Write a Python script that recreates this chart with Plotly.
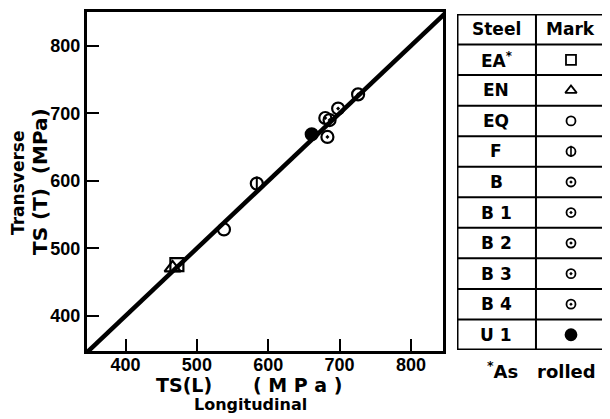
import plotly.graph_objects as go

# ---- data ----
steels = ["EA", "EN", "EQ", "F", "B", "B1", "B2", "B3", "B4", "U1"]
steel_labels = ["EA<sup>*</sup>", "EN", "EQ", "F", "B", "B 1", "B 2", "B 3", "B 4", "U 1"]
ts_long = [472, 466, 538, 584, 683, 680, 686, 698, 726, 661]
ts_trans = [476, 471, 528, 596, 665, 693, 690, 707, 728, 669]
symbols = ["square-open", "triangle-up-open", "circle-open", "circle-open",
           "circle-open-dot", "circle-open-dot", "circle-open-dot", "circle-open-dot",
           "circle-open-dot", "circle"]
x_ticks = [400, 500, 600, 700, 800]
y_ticks = [400, 500, 600, 700, 800]
diag = [345, 850]

W, H = 610, 419
OFF = 8  # page body margin offset
FONT = "DejaVu Sans"
TICKFONT = "Liberation Sans"


def px(x):
    return (x - OFF) / W


def py(y):
    return 1 - (y - OFF) / H


fig = go.Figure()

# 1:1 line
fig.add_trace(go.Scatter(x=diag, y=diag, mode="lines",
                         line=dict(color="black", width=4.5), hoverinfo="skip"))

sizes_main = {"square-open": 13, "triangle-up-open": 14}
for i, s in enumerate(steels):
    sym = symbols[i]
    fig.add_trace(go.Scatter(
        x=[ts_long[i]], y=[ts_trans[i]], mode="markers",
        marker=dict(symbol=sym, size=sizes_main.get(sym, 12),
                    color="black", line=dict(color="black", width=2.2)),
        name=s))
    if s == "F":
        fig.add_trace(go.Scatter(
            x=[ts_long[i]], y=[ts_trans[i]], mode="markers",
            marker=dict(symbol="line-ns", size=10, line=dict(color="black", width=2)),
            hoverinfo="skip"))

# ---- table markers (secondary hidden axes) ----
rows = [i + 1.5 for i in range(len(steels))]
sizes_tab = {"square-open": 10, "triangle-up-open": 10, "circle": 11}
for i, s in enumerate(steels):
    sym = symbols[i]
    fig.add_trace(go.Scatter(
        x=[0.765], y=[rows[i]], mode="markers", xaxis="x2", yaxis="y2",
        marker=dict(symbol=sym, size=sizes_tab.get(sym, 9), color="black",
                    line=dict(color="black", width=1.8)),
        hoverinfo="skip"))
    if s == "F":
        fig.add_trace(go.Scatter(
            x=[0.765], y=[rows[i]], mode="markers", xaxis="x2", yaxis="y2",
            marker=dict(symbol="line-ns", size=8, line=dict(color="black", width=1.6)),
            hoverinfo="skip"))

tickfont = dict(family=TICKFONT, size=18, color="black", weight="bold")
fig.update_layout(
    width=W, height=H, margin=dict(l=0, r=0, t=0, b=0),
    paper_bgcolor="white", plot_bgcolor="white", showlegend=False,
    xaxis=dict(domain=[px(87), px(443)], range=[346, 845], tickvals=x_ticks,
               ticks="inside", ticklen=12, tickwidth=2, tickcolor="black",
               showline=True, linewidth=3, linecolor="black", mirror=True,
               showgrid=False, zeroline=False, tickfont=tickfont, anchor="y",
               ticklabelstandoff=-5),
    yaxis=dict(domain=[py(351), py(12)], range=[348, 850], tickvals=y_ticks,
               ticks="inside", ticklen=12, tickwidth=2, tickcolor="black",
               showline=True, linewidth=3, linecolor="black", mirror=True,
               showgrid=False, zeroline=False, tickfont=tickfont, anchor="x"),
    xaxis2=dict(domain=[px(457), px(606)], range=[0, 1], visible=False, anchor="y2"),
    yaxis2=dict(domain=[py(350), py(14)], range=[11, 0], visible=False, anchor="x2"),
)

# table lines
shapes = [dict(type="rect", xref="x2", yref="y2", x0=0, x1=1, y0=0, y1=11,
               line=dict(color="black", width=3))]
for k in range(1, 11):
    shapes.append(dict(type="line", xref="x2", yref="y2", x0=0, x1=1, y0=k, y1=k,
                       line=dict(color="black", width=2)))
shapes.append(dict(type="line", xref="x2", yref="y2", x0=0.53, x1=0.53, y0=0, y1=11,
                   line=dict(color="black", width=2)))
fig.update_layout(shapes=shapes)

ann = []
hdr = dict(family=FONT, size=17, color="black", weight="bold")
ann.append(dict(xref="x2", yref="y2", x=0.265, y=0.5, text="Steel", showarrow=False, font=hdr))
ann.append(dict(xref="x2", yref="y2", x=0.765, y=0.5, text="Mark", showarrow=False, font=hdr))
for i, lab in enumerate(steel_labels):
    ann.append(dict(xref="x2", yref="y2", x=0.265, y=rows[i], text=lab, showarrow=False,
                    font=dict(family=FONT, size=17, color="black", weight="bold")))


def note(x, y, text, size, angle=0):
    return dict(xref="paper", yref="paper", x=px(x), y=py(y), text=text, showarrow=False,
                xanchor="center", yanchor="middle", textangle=angle,
                font=dict(family=FONT, size=size, color="black", weight="bold"))


ann.append(note(541, 370, "<sup>*</sup>As   rolled", 18))
ann.append(note(184, 385, "TS(L)", 19))
ann.append(note(297, 385, "( M P a )", 19))
ann.append(note(250, 404, "Longitudinal", 16))
ann.append(note(18, 183, "Transverse", 17, -90))
ann.append(note(40, 182, "TS (T)  (MPa)", 20, -90))
fig.update_layout(annotations=ann)

fig.write_html("out.html")
